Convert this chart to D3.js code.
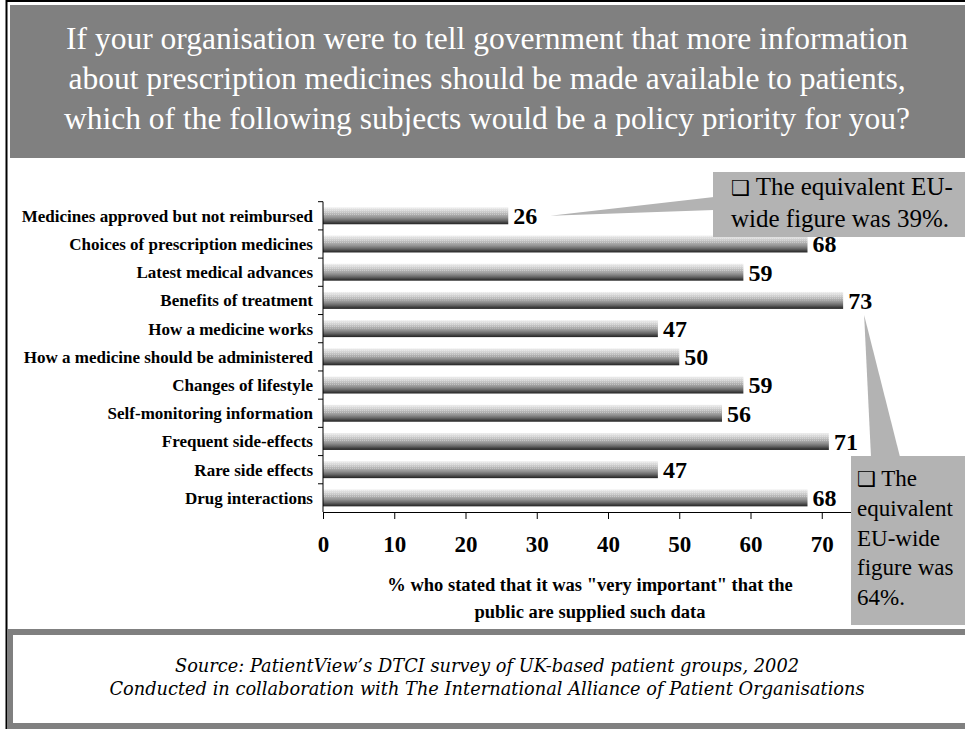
<!DOCTYPE html>
<html>
<head>
<meta charset="utf-8">
<script src="https://cdn.jsdelivr.net/npm/d3@7"></script>
<style>
  body { margin: 0; background: #fff; }
  svg { display: block; }
</style>
</head>
<body>
<div id="chart"></div>
<script>
// chart values
var categories = [
    "Medicines approved but not reimbursed",
    "Choices of prescription medicines",
    "Latest medical advances",
    "Benefits of treatment",
    "How a medicine works",
    "How a medicine should be administered",
    "Changes of lifestyle",
    "Self-monitoring information",
    "Frequent side-effects",
    "Rare side effects",
    "Drug interactions"
];
var values = [26, 68, 59, 73, 47, 50, 59, 56, 71, 47, 68];
var xTicks = [0, 10, 20, 30, 40, 50, 60, 70];

var titleLines = [
    "If your organisation were to tell government that more information",
    "about prescription medicines should be made available to patients,",
    "which of the following subjects would be a policy priority for you?"
];
var axisTitleLines = [
    "% who stated that it was \"very important\" that the",
    "public are supplied such data"
];
var sourceLines = [
    "Source: PatientView\u2019s DTCI survey of UK-based patient groups, 2002",
    "Conducted in collaboration with The International Alliance of Patient Organisations"
];
var note1Lines = ["The equivalent EU-", "wide figure was 39%."];
var note2Lines = ["The", "equivalent", "EU-wide", "figure was", "64%."];

var W = 965, H = 729;
var serif = "'Liberation Serif', 'Times New Roman', serif";

var svg = d3.select("#chart").append("svg")
    .attr("width", W)
    .attr("height", H);

var defs = svg.append("defs");
var grad = defs.append("linearGradient")
    .attr("id", "barGrad")
    .attr("x1", 0).attr("y1", 0).attr("x2", 0).attr("y2", 1);
[[0, "#eeeeee"], [0.2, "#d4d4d4"], [0.4, "#b4b4b4"], [0.6, "#929292"],
 [0.78, "#666666"], [0.9, "#404040"], [1, "#222222"]].forEach(function (s) {
    grad.append("stop").attr("offset", s[0]).attr("stop-color", s[1]);
});
var pat = defs.append("pattern")
    .attr("id", "dots")
    .attr("width", 2).attr("height", 2)
    .attr("patternUnits", "userSpaceOnUse");
pat.append("rect").attr("width", 1).attr("height", 1).attr("fill", "#fff").attr("opacity", 0.3);

// page frame
svg.append("line")
    .attr("x1", 6).attr("x2", W).attr("y1", 1).attr("y2", 1)
    .attr("stroke", "#000").attr("stroke-width", 2);
svg.append("line")
    .attr("x1", 6.5).attr("x2", 6.5).attr("y1", 0).attr("y2", H)
    .attr("stroke", "#000").attr("stroke-width", 2);

// title banner
svg.append("rect")
    .attr("x", 10).attr("y", 5)
    .attr("width", W - 10).attr("height", 153)
    .attr("fill", "#808080");

svg.append("g").selectAll("text")
    .data(titleLines)
    .enter().append("text")
    .attr("x", 487)
    .attr("y", function (d, i) { return 49 + i * 40; })
    .attr("text-anchor", "middle")
    .attr("fill", "#fff")
    .style("font-family", serif)
    .style("font-size", "31.5px")
    .text(function (d) { return d; });

// scales
var x = d3.scaleLinear()
    .domain([0, 80])
    .range([323, 893]);

var y = d3.scaleBand()
    .domain(categories)
    .range([201.7, 512])
    .paddingInner(0.4)
    .paddingOuter(0.2);

var chart = svg.append("g");

// bars
chart.selectAll(".bar")
    .data(values)
    .enter().append("rect")
    .attr("class", "bar")
    .attr("x", x(0))
    .attr("y", function (d, i) { return y(categories[i]); })
    .attr("width", function (d) { return x(d) - x(0); })
    .attr("height", y.bandwidth())
    .attr("fill", "url(#barGrad)");

chart.selectAll(".bartex")
    .data(values)
    .enter().append("rect")
    .attr("class", "bartex")
    .attr("x", x(0))
    .attr("y", function (d, i) { return y(categories[i]); })
    .attr("width", function (d) { return x(d) - x(0); })
    .attr("height", y.bandwidth() * 0.5)
    .attr("fill", "url(#dots)");

// value labels
chart.selectAll(".bar-label")
    .data(values)
    .enter().append("text")
    .attr("class", "bar-label")
    .attr("x", function (d) { return x(d) + 5; })
    .attr("y", function (d, i) { return y(categories[i]) + y.bandwidth() / 2; })
    .attr("dy", "0.35em")
    .style("font-family", serif)
    .style("font-weight", "bold")
    .style("font-size", "24px")
    .text(function (d) { return d; });

// y axis: line with ticks between categories
var yTop = y.range()[0], yBot = y.range()[1];
chart.append("line")
    .attr("x1", x(0)).attr("x2", x(0))
    .attr("y1", yTop).attr("y2", yBot)
    .attr("stroke", "#000");
chart.selectAll(".ytick")
    .data(categories)
    .enter().append("line")
    .attr("class", "ytick")
    .attr("x1", x(0) - 5).attr("x2", x(0))
    .attr("y1", function (d, i) { return yTop + i * y.step(); })
    .attr("y2", function (d, i) { return yTop + i * y.step(); })
    .attr("stroke", "#000");

chart.selectAll(".ylab")
    .data(categories)
    .enter().append("text")
    .attr("class", "ylab")
    .attr("x", 313)
    .attr("y", function (d) { return y(d) + y.bandwidth() / 2; })
    .attr("dy", "0.35em")
    .attr("text-anchor", "end")
    .style("font-family", serif)
    .style("font-weight", "bold")
    .style("font-size", "17px")
    .text(function (d) { return d; });

// x axis
var xAxis = chart.append("g")
    .attr("transform", "translate(0," + yBot + ")")
    .call(d3.axisBottom(x).tickValues(xTicks).tickSize(7).tickSizeOuter(0));
xAxis.select(".domain").attr("stroke", "#000");
xAxis.selectAll(".tick line").attr("stroke", "#000");
xAxis.selectAll(".tick text")
    .attr("y", 24)
    .attr("fill", "#000")
    .style("font-family", serif)
    .style("font-weight", "bold")
    .style("font-size", "23px");

svg.append("g").selectAll("text")
    .data(axisTitleLines)
    .enter().append("text")
    .attr("x", 590)
    .attr("y", function (d, i) { return 591 + i * 27; })
    .attr("text-anchor", "middle")
    .style("font-family", serif)
    .style("font-weight", "bold")
    .style("font-size", "18.5px")
    .text(function (d) { return d; });

// callouts
var noteFill = "#b3b3b3";

var tip1x = x(values[0]) + 42, tip1y = y(categories[0]) + y.bandwidth() / 2;
svg.append("polygon")
    .attr("points", [[tip1x, tip1y], [714, 197], [714, 210]].join(" "))
    .attr("fill", noteFill);
svg.append("rect")
    .attr("x", 713).attr("y", 172)
    .attr("width", W - 713).attr("height", 65)
    .attr("fill", noteFill);

var tip2x = x(values[3]) + 21, tip2y = y(categories[3]) + y.bandwidth() + 6;
svg.append("polygon")
    .attr("points", [[tip2x, tip2y], [871, 457], [900, 457]].join(" "))
    .attr("fill", noteFill);
svg.append("rect")
    .attr("x", 851).attr("y", 456)
    .attr("width", W - 851).attr("height", 169)
    .attr("fill", noteFill);

function noteText(lines, x0, y0, lh, fs) {
    var t = svg.append("text")
        .style("font-family", serif)
        .style("font-size", fs + "px")
        .attr("fill", "#000");
    lines.forEach(function (l, i) {
        if (i === 0) {
            t.append("tspan")
                .attr("x", x0).attr("y", y0)
                .style("font-family", "'DejaVu Sans', sans-serif")
                .style("font-size", "21px")
                .text("\u2751");
            t.append("tspan").text(" " + l);
        } else {
            t.append("tspan")
                .attr("x", x0).attr("y", y0 + i * lh)
                .text(l);
        }
    });
}
noteText(note1Lines, 731, 195, 32, 25);
noteText(note2Lines, 857, 486, 29.8, 23);

// source box
svg.append("rect")
    .attr("x", 10).attr("y", 632)
    .attr("width", W).attr("height", 94)
    .attr("fill", "#fff")
    .attr("stroke", "#808080")
    .attr("stroke-width", 6);

svg.append("g").selectAll("text")
    .data(sourceLines)
    .enter().append("text")
    .attr("x", 487)
    .attr("y", function (d, i) { return 672 + i * 23; })
    .attr("text-anchor", "middle")
    .style("font-family", "'DejaVu Serif', serif")
    .style("font-style", "italic")
    .style("font-size", "17.8px")
    .text(function (d) { return d; });
</script>
</body>
</html>
